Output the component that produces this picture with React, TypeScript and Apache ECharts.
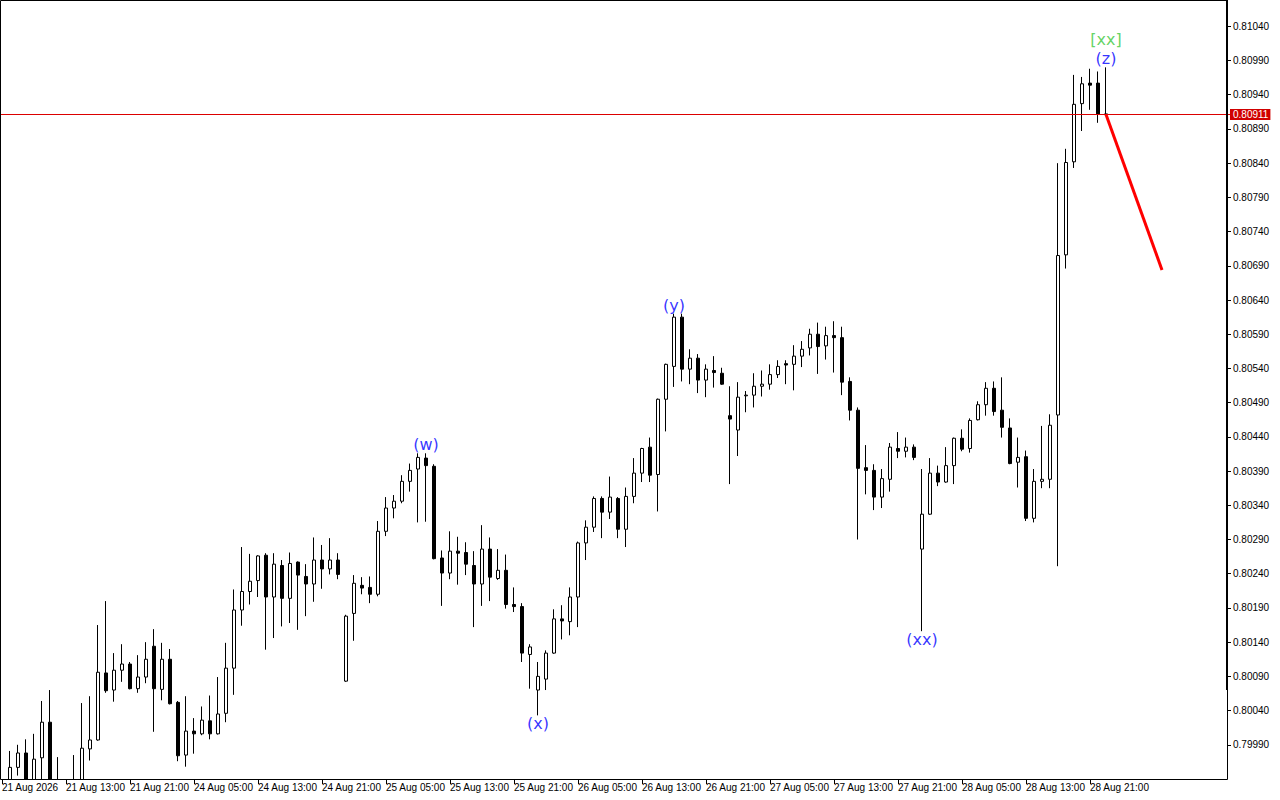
import React, { useEffect, useRef } from "react";
import * as echarts from "echarts";

// ---- data ----
const dayNames = ["21 Aug", "24 Aug", "25 Aug", "26 Aug", "27 Aug", "28 Aug"];
const firstDayStartHour = 5;
const futureBars = 15;

const opens = [0.79910,0.79927,0.79957,0.79978,0.79932,0.79971,0.80023,0.79921,0.79902,0.79917,
0.79930,0.79984,0.79997,0.80095,0.80070,0.80099,0.80108,0.80072,0.80089,0.80134,
0.80071,0.80115,0.80052,0.79975,0.80010,0.80006,0.80025,0.80006,0.80036,0.80102,
0.80187,0.80214,0.80230,0.80267,0.80206,0.80252,0.80204,0.80257,0.80236,0.80225,
0.80260,0.80247,0.80260,0.80083,0.80182,0.80223,0.80220,0.80210,0.80302,0.80336,
0.80346,0.80375,0.80393,0.80409,0.80397,0.80263,0.80241,0.80273,0.80271,0.80252,
0.80225,0.80276,0.80233,0.80245,0.80195,0.80192,0.80122,0.80070,0.80086,0.80124,
0.80174,0.80170,0.80206,0.80285,0.80308,0.80350,0.80330,0.80350,0.80305,0.80353,
0.80387,0.80425,0.80385,0.80495,0.80543,0.80615,0.80539,0.80555,0.80523,0.80537,
0.80533,0.80471,0.80450,0.80500,0.80501,0.80514,0.80517,0.80531,0.80547,0.80546,
0.80558,0.80570,0.80590,0.80573,0.80588,0.80585,0.80521,0.80479,0.80395,0.80391,
0.80352,0.80378,0.80423,0.80419,0.80425,0.80276,0.80327,0.80387,0.80374,0.80398,
0.80438,0.80423,0.80465,0.80487,0.80511,0.80479,0.80453,0.80403,0.80411,0.80321,
0.80375,0.80378,0.80472,0.80706,0.80842,0.80927,0.80957,0.80957,0.80912];

const closes = [0.79924,0.79957,0.79978,0.79924,0.79969,0.80023,0.79924,0.79902,0.79917,0.79932,
0.79985,0.79997,0.80096,0.80069,0.80099,0.80108,0.80072,0.80089,0.80115,0.80072,
0.80115,0.80050,0.79974,0.80010,0.80006,0.80026,0.80006,0.80035,0.80102,0.80187,
0.80214,0.80229,0.80266,0.80206,0.80254,0.80204,0.80255,0.80238,0.80225,0.80260,
0.80247,0.80260,0.80239,0.80178,0.80226,0.80219,0.80210,0.80302,0.80336,0.80346,
0.80375,0.80391,0.80410,0.80398,0.80262,0.80241,0.80273,0.80270,0.80254,0.80225,
0.80276,0.80235,0.80245,0.80195,0.80192,0.80124,0.80133,0.80090,0.80124,0.80174,
0.80171,0.80206,0.80285,0.80308,0.80350,0.80330,0.80352,0.80305,0.80353,0.80387,
0.80423,0.80384,0.80495,0.80546,0.80615,0.80539,0.80555,0.80523,0.80539,0.80534,
0.80517,0.80466,0.80498,0.80501,0.80514,0.80517,0.80531,0.80543,0.80545,0.80558,
0.80568,0.80590,0.80572,0.80588,0.80585,0.80520,0.80479,0.80394,0.80391,0.80352,
0.80379,0.80425,0.80419,0.80425,0.80410,0.80327,0.80387,0.80374,0.80398,0.80438,
0.80422,0.80464,0.80487,0.80511,0.80477,0.80454,0.80401,0.80410,0.80321,0.80375,
0.80378,0.80457,0.80705,0.80841,0.80926,0.80956,0.80954,0.80912,0.80911];

const highs = [0.79932,0.79981,0.79990,0.79998,0.80006,0.80054,0.80070,0.79972,0.79936,0.79975,
0.80051,0.80061,0.80165,0.80200,0.80124,0.80137,0.80111,0.80121,0.80140,0.80159,
0.80139,0.80130,0.80054,0.80061,0.80029,0.80046,0.80062,0.80089,0.80139,0.80217,
0.80279,0.80269,0.80267,0.80270,0.80270,0.80260,0.80271,0.80258,0.80254,0.80293,
0.80282,0.80292,0.80270,0.80180,0.80238,0.80235,0.80236,0.80317,0.80352,0.80355,
0.80384,0.80401,0.80416,0.80416,0.80400,0.80274,0.80302,0.80294,0.80286,0.80273,
0.80311,0.80293,0.80276,0.80268,0.80220,0.80197,0.80137,0.80111,0.80128,0.80188,
0.80194,0.80220,0.80287,0.80318,0.80353,0.80353,0.80382,0.80352,0.80366,0.80409,
0.80424,0.80439,0.80496,0.80547,0.80620,0.80620,0.80568,0.80561,0.80546,0.80558,
0.80541,0.80514,0.80520,0.80507,0.80533,0.80537,0.80546,0.80552,0.80552,0.80574,
0.80580,0.80598,0.80607,0.80601,0.80609,0.80601,0.80527,0.80483,0.80428,0.80400,
0.80393,0.80431,0.80447,0.80439,0.80429,0.80393,0.80409,0.80398,0.80425,0.80439,
0.80451,0.80467,0.80492,0.80520,0.80521,0.80527,0.80467,0.80439,0.80420,0.80393,
0.80456,0.80473,0.80840,0.80861,0.80969,0.80966,0.80978,0.80974,0.80980];

const lows = [0.79895,0.79917,0.79945,0.79910,0.79917,0.79932,0.79910,0.79888,0.79880,0.79902,
0.79921,0.79967,0.79996,0.80066,0.80053,0.80082,0.80071,0.80066,0.80080,0.80009,
0.80055,0.80049,0.79966,0.79958,0.79977,0.80004,0.79998,0.80005,0.80023,0.80063,
0.80164,0.80195,0.80206,0.80129,0.80146,0.80163,0.80168,0.80158,0.80178,0.80199,
0.80218,0.80239,0.80232,0.80082,0.80142,0.80210,0.80197,0.80207,0.80295,0.80321,
0.80343,0.80360,0.80315,0.80316,0.80261,0.80193,0.80232,0.80224,0.80238,0.80162,
0.80193,0.80200,0.80231,0.80189,0.80184,0.80111,0.80072,0.80033,0.80070,0.80123,
0.80144,0.80150,0.80162,0.80260,0.80301,0.80292,0.80320,0.80292,0.80279,0.80343,
0.80374,0.80374,0.80331,0.80448,0.80513,0.80521,0.80517,0.80504,0.80498,0.80512,
0.80516,0.80371,0.80412,0.80476,0.80483,0.80499,0.80509,0.80526,0.80517,0.80508,
0.80542,0.80559,0.80532,0.80553,0.80534,0.80501,0.80464,0.80290,0.80356,0.80333,
0.80336,0.80360,0.80409,0.80410,0.80406,0.80156,0.80326,0.80368,0.80373,0.80371,
0.80419,0.80417,0.80464,0.80471,0.80471,0.80439,0.80400,0.80366,0.80317,0.80315,
0.80365,0.80365,0.80251,0.80686,0.80833,0.80887,0.80918,0.80899,0.80909];

const bidPrice = 0.80911;
const forecastIdx = [138, 145];
const forecastVal = [0.80911, 0.80684];

const waveNames = ["(w)", "(x)", "(y)", "(xx)", "(z)", "[xx]"];
const waveIdx = [53, 67, 84, 115, 138, 138];
const wavePos = ["top", "bottom", "top", "bottom", "top", "top"];
const waveColors = ["#0000ff", "#0000ff", "#0000ff", "#0000ff", "#0000ff", "#3cc83c"];
const waveDist = [0, 0, 0, 0, 0, 19];

const yMin = 0.7994;
const yMax = 0.81077;
const yStep = 0.0005;

// ---- categories ----
const categories: string[] = [];
dayNames.forEach((d, di) => {
  const start = di === 0 ? firstDayStartHour : 0;
  for (let h = start; h < 24; h++) {
    categories.push(`${d} ${h < 10 ? "0" + h : h}:00`);
  }
});
const realCount = categories.length;
for (let k = 1; k <= futureBars; k++) categories.push(`+${k}`);

const labelEvery = 8;
const showTick = (idx: number) => idx < realCount && idx % labelEvery === 0;

export default function App() {
  const ref = useRef<HTMLDivElement>(null);
  useEffect(() => {
    if (!ref.current) return;
    const chart = echarts.init(ref.current, null, { renderer: "svg" });
    const font = "Liberation Sans";
    const option: any = {
      animation: false,
      backgroundColor: "#ffffff",
      grid: {
        left: -2,
        right: 50,
        top: 1,
        bottom: 21,
        containLabel: false,
        outerBoundsMode: "none",
      },
      xAxis: {
        type: "category",
        data: categories,
        boundaryGap: true,
        z: 20,
        axisLine: { show: false },
        axisTick: {
          show: true,
          alignWithLabel: true,
          interval: (idx: number) => showTick(idx),
          length: 5,
          lineStyle: { color: "#000", width: 1 },
        },
        axisLabel: {
          interval: (idx: number) => showTick(idx),
          align: "left",
          margin: 3,
          color: "#000",
          fontSize: 10,
          fontFamily: font,
          formatter: (v: string, idx: number) => (idx === 0 ? "21 Aug 2026" : v),
        },
        splitLine: { show: false },
      },
      yAxis: {
        type: "value",
        position: "right",
        offset: -3,
        min: yMin,
        max: yMax,
        interval: yStep,
        z: 20,
        axisLine: { show: false },
        axisTick: { show: true, length: 4, lineStyle: { color: "#000" } },
        axisLabel: {
          margin: 6,
          color: "#000",
          fontSize: 10,
          fontFamily: font,
          showMinLabel: false,
          showMaxLabel: false,
          formatter: (v: number) => v.toFixed(5),
        },
        splitLine: { show: false },
      },
      graphic: [
        {
          type: "rect",
          z: 10,
          silent: true,
          shape: { x: 0, y: 780, width: 1280, height: 20 },
          style: { fill: "#ffffff" },
        },
        {
          type: "rect",
          z: 100,
          silent: true,
          shape: { x: 0.5, y: 0.5, width: 1227, height: 779 },
          style: { fill: "none", stroke: "#000", lineWidth: 1 },
        },
        {
          type: "rect",
          z: 100,
          silent: true,
          shape: { x: 1226, y: 0, width: 2, height: 690 },
          style: { fill: "#000" },
        },
      ],
      series: [
        {
          type: "candlestick",
          data: opens.map((o, i) => [o, closes[i], lows[i], highs[i]]),
          barWidth: 4,
          itemStyle: {
            color: "#ffffff",
            color0: "#000000",
            borderColor: "#000000",
            borderColor0: "#000000",
            borderColorDoji: "#000000",
            borderWidth: 1,
          },
        },
        {
          type: "line",
          data: forecastIdx.map((idx, k) => [categories[idx], forecastVal[k]]),
          symbol: "none",
          lineStyle: { color: "#ff0000", width: 3 },
          z: 5,
          silent: true,
          markLine: {
            silent: true,
            precision: 5,
            symbol: ["none", "none"],
            lineStyle: { color: "#dc0000", width: 1, type: "solid" },
            label: {
              show: true,
              position: "end",
              distance: 0,
              formatter: bidPrice.toFixed(5),
              color: "#fff",
              backgroundColor: "#d00000",
              padding: [1, 2, 0, 3],
              fontSize: 10,
              fontFamily: font,
            },
            data: [{ yAxis: bidPrice }],
          },
        },
        {
          type: "scatter",
          symbolSize: 1,
          silent: true,
          itemStyle: { color: "rgba(0,0,0,0)" },
          z: 6,
          data: waveIdx.map((idx, k) => ({
            value: [categories[idx], wavePos[k] === "top" ? highs[idx] : lows[idx]],
            label: {
              show: true,
              position: wavePos[k],
              distance: waveDist[k],
              formatter: waveNames[k],
              color: waveColors[k],
              fontSize: 16,
              fontFamily: "DejaVu Sans",
            },
          })),
        },
      ],
    };
    chart.setOption(option);
    return () => chart.dispose();
  }, []);
  return (
    <div
      ref={ref}
      style={{ position: "fixed", left: 0, top: 0, width: 1280, height: 800 }}
    />
  );
}
